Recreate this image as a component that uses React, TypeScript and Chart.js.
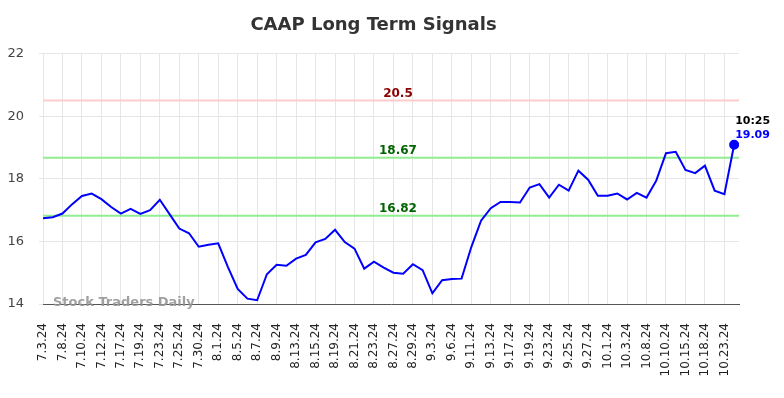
import React, { useEffect, useRef } from "react";
import { Chart, registerables } from "chart.js";

Chart.register(...registerables);

const dates: string[] = [
  "7.3.24", "7.5.24", "7.8.24", "7.9.24", "7.10.24", "7.11.24", "7.12.24", "7.15.24",
  "7.17.24", "7.18.24", "7.19.24", "7.22.24", "7.23.24", "7.24.24", "7.25.24", "7.26.24",
  "7.30.24", "7.31.24", "8.1.24", "8.2.24", "8.5.24", "8.6.24", "8.7.24", "8.8.24",
  "8.9.24", "8.12.24", "8.13.24", "8.14.24", "8.15.24", "8.16.24", "8.19.24", "8.20.24",
  "8.21.24", "8.22.24", "8.23.24", "8.26.24", "8.27.24", "8.28.24", "8.29.24", "8.30.24",
  "9.3.24", "9.4.24", "9.6.24", "9.9.24", "9.11.24", "9.12.24", "9.13.24", "9.16.24",
  "9.17.24", "9.18.24", "9.19.24", "9.20.24", "9.23.24", "9.24.24", "9.25.24", "9.26.24",
  "9.27.24", "9.30.24", "10.1.24", "10.2.24", "10.3.24", "10.4.24", "10.8.24", "10.9.24",
  "10.10.24", "10.11.24", "10.15.24", "10.16.24", "10.18.24", "10.21.24", "10.23.24", "10.25.24",
];

const prices: number[] = [
  16.74, 16.77, 16.89, 17.19, 17.45, 17.53, 17.35, 17.10,
  16.89, 17.04, 16.88, 17.00, 17.33, 16.87, 16.41, 16.26,
  15.83, 15.89, 15.94, 15.18, 14.48, 14.17, 14.12, 14.95,
  15.25, 15.22, 15.45, 15.57, 15.97, 16.08, 16.37, 15.98,
  15.77, 15.13, 15.35, 15.16, 15.00, 14.97, 15.27, 15.08,
  14.34, 14.76, 14.80, 14.81, 15.82, 16.66, 17.06, 17.26,
  17.26, 17.24, 17.72, 17.83, 17.40, 17.81, 17.62, 18.26,
  17.97, 17.46, 17.46, 17.53, 17.34, 17.55, 17.40, 17.94,
  18.82, 18.86, 18.28, 18.18, 18.42, 17.62, 17.51, 19.09,
];

const yTicks: number[] = [14, 16, 18, 20, 22];

const signalValues: number[] = [20.5, 18.67, 16.82];
const signalLabels: string[] = ["20.5", "18.67", "16.82"];
const signalLineColors: string[] = ["#ffcccc", "#90ee90", "#90ee90"];
const signalTextColors: string[] = ["#8b0000", "#006400", "#006400"];

const lastTimeLabel = "10:25";
const lastValueLabel = "19.09";
const titleText = "CAAP Long Term Signals";
const watermarkText = "Stock Traders Daily";

const FONT = "'DejaVu Sans', sans-serif";

export default function App() {
  const canvasRef = useRef<HTMLCanvasElement | null>(null);

  useEffect(() => {
    if (!canvasRef.current) return;
    const last = prices.length - 1;

    const signalPlugin = {
      id: "signals",
      beforeDatasetsDraw(chart: any) {
        const { ctx, chartArea, scales } = chart;
        ctx.save();
        signalValues.forEach((v, i) => {
          const y = scales.y.getPixelForValue(v);
          ctx.strokeStyle = signalLineColors[i];
          ctx.lineWidth = 2;
          ctx.beginPath();
          ctx.moveTo(chartArea.left, y);
          ctx.lineTo(chartArea.right, y);
          ctx.stroke();
        });
        ctx.restore();
      },
      afterDraw(chart: any) {
        const { ctx, chartArea, scales } = chart;
        ctx.save();
        const cx = chartArea.left + chartArea.width * 0.51;
        ctx.font = `bold 12px ${FONT}`;
        ctx.textAlign = "center";
        ctx.textBaseline = "bottom";
        signalValues.forEach((v, i) => {
          const y = scales.y.getPixelForValue(v);
          ctx.fillStyle = signalTextColors[i];
          ctx.fillText(signalLabels[i], cx, y - 1);
        });
        const px = scales.x.getPixelForValue(last);
        const py = scales.y.getPixelForValue(prices[last]);
        ctx.textAlign = "left";
        ctx.textBaseline = "middle";
        ctx.font = `bold 11px ${FONT}`;
        ctx.fillStyle = "#000000";
        ctx.fillText(lastTimeLabel, px + 1, py - 24);
        ctx.fillStyle = "#0000ff";
        ctx.fillText(lastValueLabel, px + 1, py - 10);
        ctx.font = `bold 13px ${FONT}`;
        ctx.fillStyle = "rgba(150,150,150,0.9)";
        ctx.textAlign = "left";
        ctx.textBaseline = "middle";
        ctx.fillText(watermarkText, chartArea.left + 10, chartArea.bottom - 1);
        ctx.restore();
      },
    };

    const chart = new Chart(canvasRef.current, {
      type: "line",
      data: {
        datasets: [
          {
            data: prices.map((p, i) => ({ x: i, y: p })),
            borderColor: "#0000ff",
            backgroundColor: "#0000ff",
            borderWidth: 2,
            tension: 0,
            pointRadius: (c: any) => (c.dataIndex === last ? 4 : 0),
            pointHoverRadius: 4,
            fill: false,
          },
        ],
      },
      options: {
        animation: false,
        responsive: true,
        maintainAspectRatio: false,
        layout: { padding: { left: 0, right: 37, top: 0, bottom: 6 } },
        plugins: {
          legend: { display: false },
          tooltip: { enabled: false },
          title: {
            display: true,
            text: titleText,
            color: "#333333",
            font: { family: FONT, size: 18, weight: "bold" },
            padding: { top: 7, bottom: 17 },
          },
        },
        scales: {
          x: {
            type: "linear",
            min: 0,
            max: 71.5,
            afterBuildTicks: (scale: any) => {
              scale.ticks = dates
                .map((_, i) => ({ value: i }))
                .filter((t) => t.value % 2 === 0);
            },
            afterFit: (scale: any) => {
              scale.height = 80;
            },
            ticks: {
              autoSkip: false,
              maxRotation: 90,
              minRotation: 90,
              padding: 9,
              color: "#222222",
              font: { family: FONT, size: 12 },
              callback: (value: any) => dates[value as number] ?? "",
            },
            grid: {
              color: "#e6e6e6",
              drawTicks: true,
              tickLength: 10,
              tickColor: "rgba(0,0,0,0)",
            },
            border: { display: true, color: "#555555", width: 1 },
          },
          y: {
            min: 14,
            max: 22,
            afterBuildTicks: (scale: any) => {
              scale.ticks = yTicks.map((v) => ({ value: v }));
            },
            afterFit: (scale: any) => {
              scale.width = 35;
            },
            ticks: {
              padding: 15,
              color: "#444444",
              font: { family: FONT, size: 13 },
            },
            grid: {
              color: "#e6e6e6",
              tickLength: 4,
            },
            border: { display: false },
          },
        },
      },
      plugins: [signalPlugin],
    });

    return () => chart.destroy();
  }, []);

  return (
    <div style={{ width: 768, height: 382, position: "relative" }}>
      <canvas ref={canvasRef} />
    </div>
  );
}
